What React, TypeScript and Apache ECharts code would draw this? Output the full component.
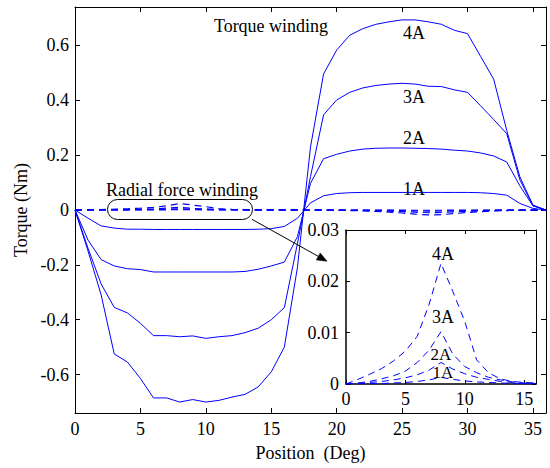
import React, { useEffect, useRef } from 'react';
import * as echarts from 'echarts';

// Rotor position (deg)
const positions = [0, 1, 2, 3, 4, 5, 6, 7, 8, 9, 10, 11, 12, 13, 14, 15, 16, 17, 18, 19, 20, 21, 22, 23, 24, 25, 26, 27, 28, 29, 30, 31, 32, 33, 34, 35, 36];
const insetPositions = [0, 1, 2, 3, 4, 5, 6, 7, 8, 9, 10, 11, 12, 13, 14, 15, 16];

// Torque produced by the torque winding (Nm)
const torque1A = [0, -0.03, -0.058, -0.066, -0.07, -0.07, -0.071, -0.071, -0.071, -0.071, -0.071, -0.071, -0.071, -0.071, -0.07, -0.068, -0.06, -0.03, 0.026, 0.052, 0.06, 0.063, 0.064, 0.064, 0.064, 0.064, 0.064, 0.064, 0.064, 0.064, 0.064, 0.063, 0.06, 0.054, 0.024, 0.006, 0];
const torque2A = [0, -0.11, -0.181, -0.204, -0.214, -0.217, -0.226, -0.226, -0.226, -0.226, -0.226, -0.226, -0.226, -0.224, -0.216, -0.204, -0.19, -0.097, 0.097, 0.187, 0.203, 0.215, 0.222, 0.225, 0.226, 0.226, 0.225, 0.224, 0.222, 0.218, 0.215, 0.208, 0.197, 0.175, 0.088, 0.015, 0];
const torque3A = [0, -0.14, -0.27, -0.355, -0.375, -0.413, -0.458, -0.458, -0.462, -0.459, -0.468, -0.462, -0.458, -0.447, -0.431, -0.4, -0.356, -0.123, 0.122, 0.347, 0.401, 0.429, 0.445, 0.454, 0.459, 0.462, 0.459, 0.451, 0.45, 0.438, 0.429, 0.38, 0.33, 0.278, 0.11, 0.016, 0];
const torque4A = [0, -0.15, -0.31, -0.525, -0.554, -0.614, -0.685, -0.685, -0.7, -0.691, -0.7, -0.694, -0.682, -0.672, -0.645, -0.59, -0.5, -0.21, 0.23, 0.496, 0.583, 0.637, 0.661, 0.677, 0.686, 0.693, 0.693, 0.686, 0.677, 0.655, 0.643, 0.56, 0.477, 0.29, 0.121, 0.018, 0];

// Torque produced by the radial force winding (Nm)
const radial1A = [0, 0, 0.0001, 0.0001, 0.0002, 0.0003, 0.0005, 0.0008, 0.0013, 0.0009, 0.0006, 0.0004, 0.0003, 0.0002, 0.0001, 0, 0, 0, 0, 0, -0.0001, -0.0001, -0.0002, -0.0003, -0.0005, -0.0007, -0.0009, -0.001, -0.0009, -0.0007, -0.0005, -0.0003, -0.0002, -0.0001, 0, 0, 0];
const radial2A = [0, 0.0001, 0.0003, 0.0005, 0.0008, 0.0012, 0.0018, 0.0027, 0.0042, 0.0029, 0.002, 0.0013, 0.0009, 0.0005, 0.0003, 0.0001, 0, 0, 0, -0.0001, -0.0002, -0.0004, -0.0007, -0.001, -0.0016, -0.0024, -0.0032, -0.004, -0.0036, -0.0028, -0.002, -0.0013, -0.0008, -0.0004, -0.0002, -0.0001, 0];
const radial3A = [0, 0.0002, 0.0005, 0.001, 0.0016, 0.0025, 0.0042, 0.0066, 0.0102, 0.0058, 0.0034, 0.0022, 0.0013, 0.0008, 0.0004, 0.0002, 0.0001, 0, 0, -0.0002, -0.0005, -0.001, -0.0015, -0.0025, -0.004, -0.006, -0.008, -0.01, -0.009, -0.007, -0.005, -0.003, -0.002, -0.001, -0.0005, -0.0002, 0];
const radial4A = [0, 0.0009, 0.0019, 0.003, 0.0045, 0.0064, 0.0093, 0.0155, 0.0235, 0.018, 0.0122, 0.0047, 0.0022, 0.001, 0.0005, 0.0003, 0.0002, 0.0001, 0, -0.0005, -0.001, -0.002, -0.003, -0.005, -0.008, -0.011, -0.015, -0.018, -0.017, -0.013, -0.009, -0.006, -0.003, -0.002, -0.001, -0.0005, 0];

// Tick values
const mainXTicks = [0, 5, 10, 15, 20, 25, 30, 35];
const mainYTicks = [-0.6, -0.4, -0.2, 0, 0.2, 0.4, 0.6];
const insetXTicks = [0, 5, 10, 15];
const insetYTicks = [0, 0.01, 0.02, 0.03];

const currentLabels = ['1A', '2A', '3A', '4A'];

const FONT = '"Liberation Serif", "Times New Roman", serif';
const BLUE = '#0000ff';

function textEl(text: string, x: number, y: number, z = 20, size = 18) {
  return {
    type: 'text',
    x,
    y,
    z,
    style: {
      text,
      font: `${size}px ${FONT}`,
      fill: '#000',
      align: 'center',
      verticalAlign: 'middle',
      textAlign: 'center',
      textVerticalAlign: 'middle',
    },
  };
}

export default function App() {
  const ref = useRef<HTMLDivElement>(null);

  useEffect(() => {
    if (!ref.current) return;
    const chart = echarts.init(ref.current, undefined, { renderer: 'svg' });

    const axisLine = { show: true, onZero: false, lineStyle: { color: '#000', width: 1 } };
    const insetAxisLine = { show: true, onZero: false, lineStyle: { color: '#000', width: 1.5 } };
    const labelStyle = { fontSize: 18, fontFamily: FONT, color: '#000' };

    const mainSolid = [torque1A, torque2A, torque3A, torque4A].map((arr, k) => ({
      name: `Torque winding ${currentLabels[k]}`,
      type: 'line',
      xAxisIndex: 0,
      yAxisIndex: 0,
      data: positions.map((p, i) => [p, arr[i]]),
      symbol: 'none',
      lineStyle: { color: BLUE, width: 1 },
      z: 3,
      silent: true,
    }));
    const mainDashed = [radial1A, radial2A, radial3A, radial4A].map((arr, k) => ({
      name: `Radial force winding ${currentLabels[k]}`,
      type: 'line',
      xAxisIndex: 0,
      yAxisIndex: 0,
      data: positions.map((p, i) => [p, arr[i]]),
      symbol: 'none',
      lineStyle: { color: BLUE, width: 1.2, type: [7, 5] },
      z: 3,
      silent: true,
    }));
    const insetDashed = [radial1A, radial2A, radial3A, radial4A].map((arr, k) => ({
      name: `Inset radial force winding ${currentLabels[k]}`,
      type: 'line',
      xAxisIndex: 2,
      yAxisIndex: 2,
      data: insetPositions.map((p, i) => [p, arr[i]]),
      symbol: 'none',
      lineStyle: { color: BLUE, width: 1, type: [7, 5] },
      z: 12,
      silent: true,
    }));

    chart.setOption({
      animation: false,
      backgroundColor: '#fff',
      textStyle: { fontFamily: FONT },
      grid: [
        { left: 75, top: 7, width: 471, height: 406, containLabel: false },
        {
          left: 346, top: 230, width: 190, height: 154, containLabel: false,
          show: true, backgroundColor: '#fff', borderWidth: 0, z: 10,
        },
      ],
      xAxis: [
        {
          type: 'value', gridIndex: 0, min: 0, max: 36, position: 'bottom',
          axisLine,
          axisTick: { show: true, inside: true, length: 5, customValues: mainXTicks, lineStyle: { color: '#000' } },
          axisLabel: { ...labelStyle, customValues: mainXTicks, margin: 7 },
          splitLine: { show: false },
          name: 'Position  (Deg)', nameLocation: 'middle', nameGap: 31,
          nameTextStyle: { ...labelStyle },
        },
        {
          type: 'value', gridIndex: 0, min: 0, max: 36, position: 'top',
          axisLine,
          axisTick: { show: true, inside: true, length: 5, customValues: mainXTicks, lineStyle: { color: '#000' } },
          axisLabel: { show: false },
          splitLine: { show: false },
        },
        {
          type: 'value', gridIndex: 1, min: 0, max: 16, position: 'bottom', z: 11,
          axisLine: insetAxisLine,
          axisTick: { show: true, inside: true, length: 4, customValues: insetXTicks, lineStyle: { color: '#000' } },
          axisLabel: { ...labelStyle, customValues: insetXTicks, margin: 6 },
          splitLine: { show: false },
        },
        {
          type: 'value', gridIndex: 1, min: 0, max: 16, position: 'top', z: 11,
          axisLine,
          axisTick: { show: true, inside: true, length: 4, customValues: insetXTicks, lineStyle: { color: '#000' } },
          axisLabel: { show: false },
          splitLine: { show: false },
        },
      ],
      yAxis: [
        {
          type: 'value', gridIndex: 0, min: -0.74, max: 0.74, position: 'left',
          axisLine,
          axisTick: { show: true, inside: true, length: 5, customValues: mainYTicks, lineStyle: { color: '#000' } },
          axisLabel: { ...labelStyle, customValues: mainYTicks, margin: 6 },
          splitLine: { show: false },
          name: 'Torque (Nm)', nameLocation: 'middle', nameGap: 45, nameRotate: 90,
          nameTextStyle: { ...labelStyle },
        },
        {
          type: 'value', gridIndex: 0, min: -0.74, max: 0.74, position: 'right',
          axisLine,
          axisTick: { show: true, inside: true, length: 5, customValues: mainYTicks, lineStyle: { color: '#000' } },
          axisLabel: { show: false },
          splitLine: { show: false },
        },
        {
          type: 'value', gridIndex: 1, min: 0, max: 0.03, position: 'left', z: 11,
          axisLine: insetAxisLine,
          axisTick: { show: true, inside: true, length: 4, customValues: insetYTicks, lineStyle: { color: '#000' } },
          axisLabel: { ...labelStyle, customValues: insetYTicks, margin: 7 },
          splitLine: { show: false },
        },
        {
          type: 'value', gridIndex: 1, min: 0, max: 0.03, position: 'right', z: 11,
          axisLine,
          axisTick: { show: true, inside: true, length: 4, customValues: insetYTicks, lineStyle: { color: '#000' } },
          axisLabel: { show: false },
          splitLine: { show: false },
        },
      ],
      series: [...mainSolid, ...mainDashed, ...insetDashed],
      graphic: [
        textEl('Torque winding', 271, 26),
        textEl('Radial force winding', 182, 190),
        textEl('4A', 414, 33),
        textEl('3A', 414, 97),
        textEl('2A', 414, 138),
        textEl('1A', 414, 189),
        textEl('4A', 443, 254, 30),
        textEl('3A', 443, 317, 30),
        textEl('2A', 441, 354.5, 30, 17),
        textEl('1A', 443, 372.5, 30, 17),
        {
          type: 'rect', z: 20,
          shape: { x: 107.5, y: 199.5, width: 145, height: 20, r: 10 },
          style: { fill: 'none', stroke: '#000', lineWidth: 1 },
        },
        {
          type: 'line', z: 20,
          shape: { x1: 252, y1: 219.3, x2: 318.5, y2: 256.5 },
          style: { stroke: '#000', lineWidth: 1 },
        },
        {
          type: 'polygon', z: 20,
          shape: { points: [[327, 261.3], [316.3, 259.9], [320.2, 252.9]] },
          style: { fill: '#000', stroke: '#000', lineWidth: 0.5 },
        },
      ],
    });

    return () => chart.dispose();
  }, []);

  return (
    <div style={{ position: 'fixed', left: 0, top: 0, width: 550, height: 468, background: '#fff' }}>
      <div ref={ref} style={{ width: 550, height: 468 }} />
    </div>
  );
}
